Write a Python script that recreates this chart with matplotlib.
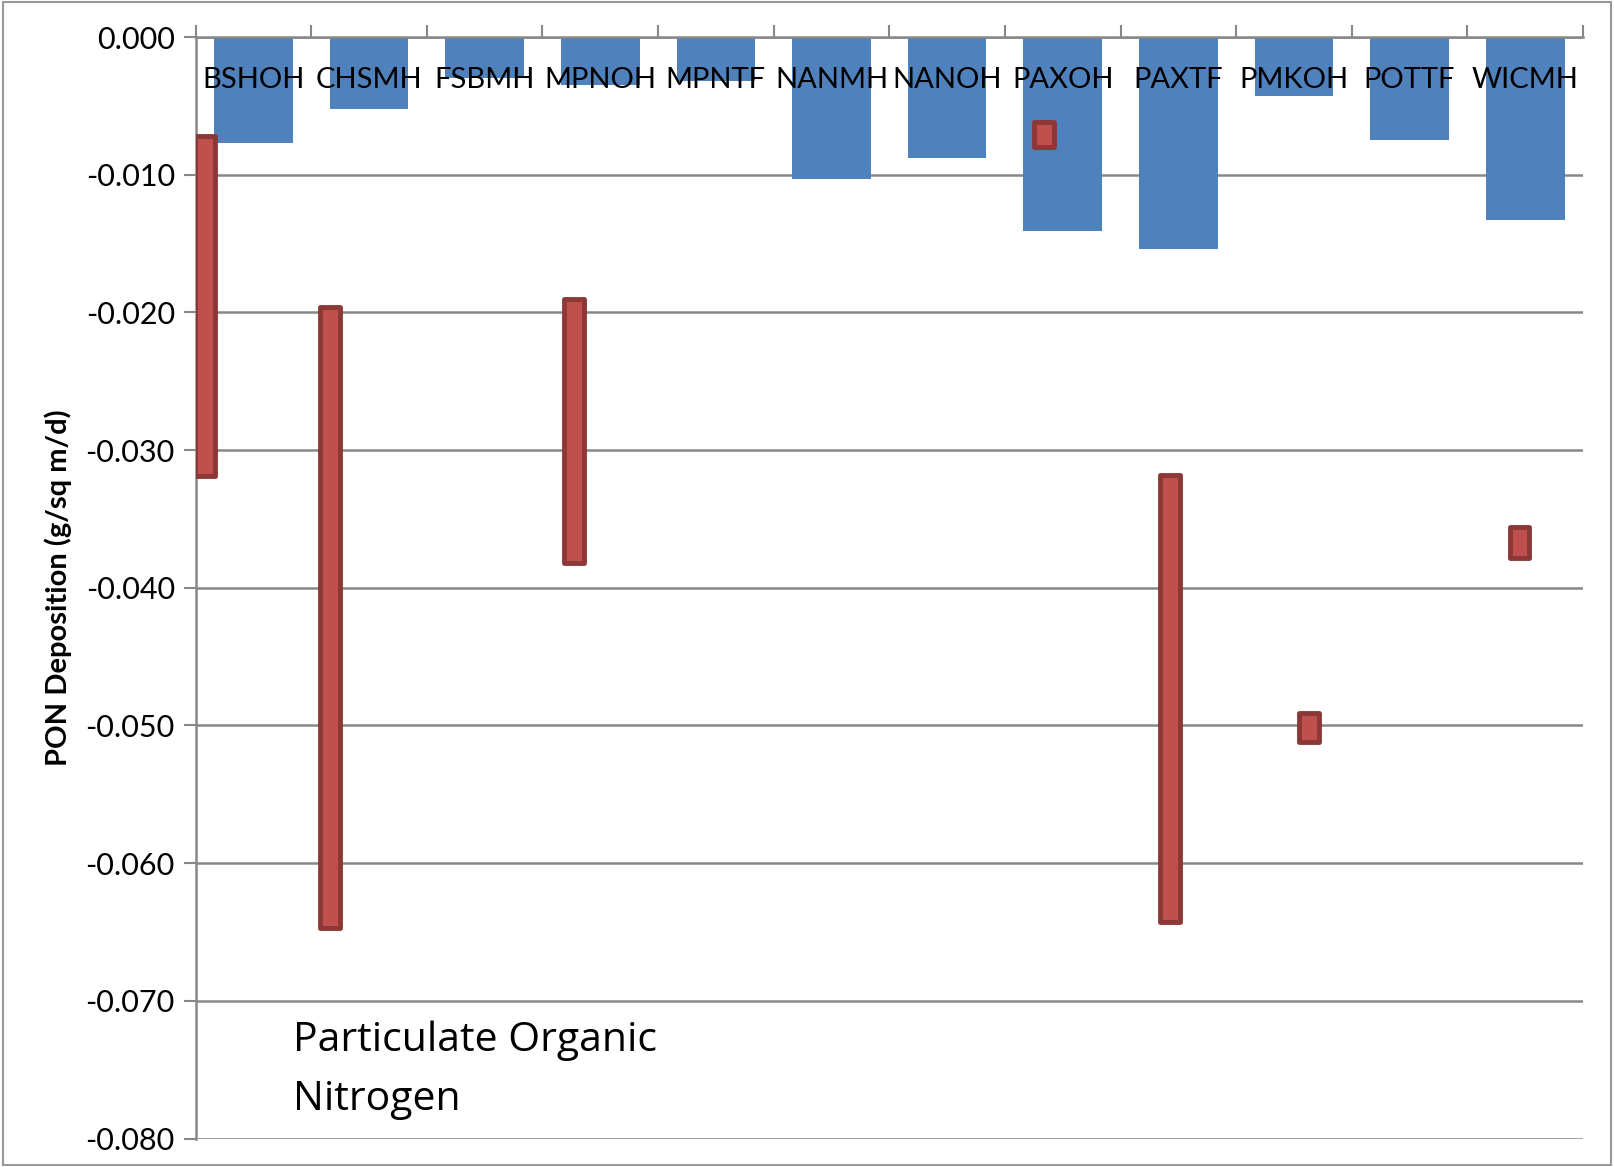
import matplotlib.pyplot as plt
import numpy as np
from matplotlib.patches import Rectangle

# sites along the category axis
sites = ['BSHOH', 'CHSMH', 'FSBMH', 'MPNOH', 'MPNTF', 'NANMH',
         'NANOH', 'PAXOH', 'PAXTF', 'PMKOH', 'POTTF', 'WICMH']
# blue columns (PON deposition, g/sq m/d)
pon_dep = [-0.0077, -0.0052, -0.0030, -0.0035, -0.0032, -0.0103,
           -0.0088, -0.0141, -0.0154, -0.0043, -0.0075, -0.0133]

# red floating ranges (position along category axis, upper and lower value)
range_pos = [-0.42, 0.66, 2.77, 6.84, 7.93, 9.13, 10.95]
range_hi = [-0.0072, -0.0196, -0.0190, -0.0062, -0.0318, -0.0491, -0.0356]
range_lo = [-0.0319, -0.0647, -0.0382, -0.0080, -0.0643, -0.0512, -0.0378]

yticks = np.arange(0, -0.0801, -0.01)

plt.rcParams['font.family'] = ['Lato', 'DejaVu Sans']

fig = plt.figure(figsize=(16.14, 11.67), dpi=100)
ax = fig.add_axes([0.1212, 0.0244, 0.8596, 0.9438])

x = np.arange(len(sites))
ax.bar(x, pon_dep, width=0.68, color='#4F81BD', zorder=2)

heights = np.array(range_lo) - np.array(range_hi)
ax.bar(range_pos, heights, bottom=range_hi, width=0.17, color='#C0504D',
       edgecolor='#8C3836', linewidth=3.5, joinstyle='round', zorder=3)

# category names sit just under the zero line
for i, name in enumerate(sites):
    ax.text(i, -0.0031, name, ha='center', va='center', fontsize=21, zorder=4)

ax.text(0.34, -0.0714, 'Particulate Organic\nNitrogen', ha='left', va='top',
        fontsize=29.5, linespacing=1.62, family=['Open Sans', 'DejaVu Sans'])

ax.set_xlim(-0.5, len(sites) - 0.5)
ax.set_ylim(-0.080, 0.0)
ax.set_yticks(yticks)
ax.set_yticklabels(['%.3f' % v for v in yticks], fontsize=22)
ax.yaxis.grid(True, color='#888888', linewidth=1.8, zorder=0)
ax.set_axisbelow(True)

ax.xaxis.tick_top()
ax.set_xticks(np.arange(-0.5, len(sites)))
ax.set_xticklabels([])
ax.tick_params(axis='x', direction='out', length=9, width=1.5, color='#888888')
ax.tick_params(axis='y', direction='out', length=9, width=1.5, color='#888888', pad=6)

for side in ['right', 'bottom']:
    ax.spines[side].set_visible(False)
ax.spines['left'].set_color('#888888')
ax.spines['left'].set_linewidth(1.8)
ax.spines['top'].set_color('#888888')
ax.spines['top'].set_linewidth(1.8)

ax.set_ylabel('PON Deposition (g/sq m/d)', fontsize=21, fontweight='bold', labelpad=10)

# chart area border
fig.patches.append(Rectangle((0.002, 0.002), 0.996, 0.996, transform=fig.transFigure,
                             fill=False, edgecolor='#999999', linewidth=1.5))

fig.savefig('out.png', dpi=100)
